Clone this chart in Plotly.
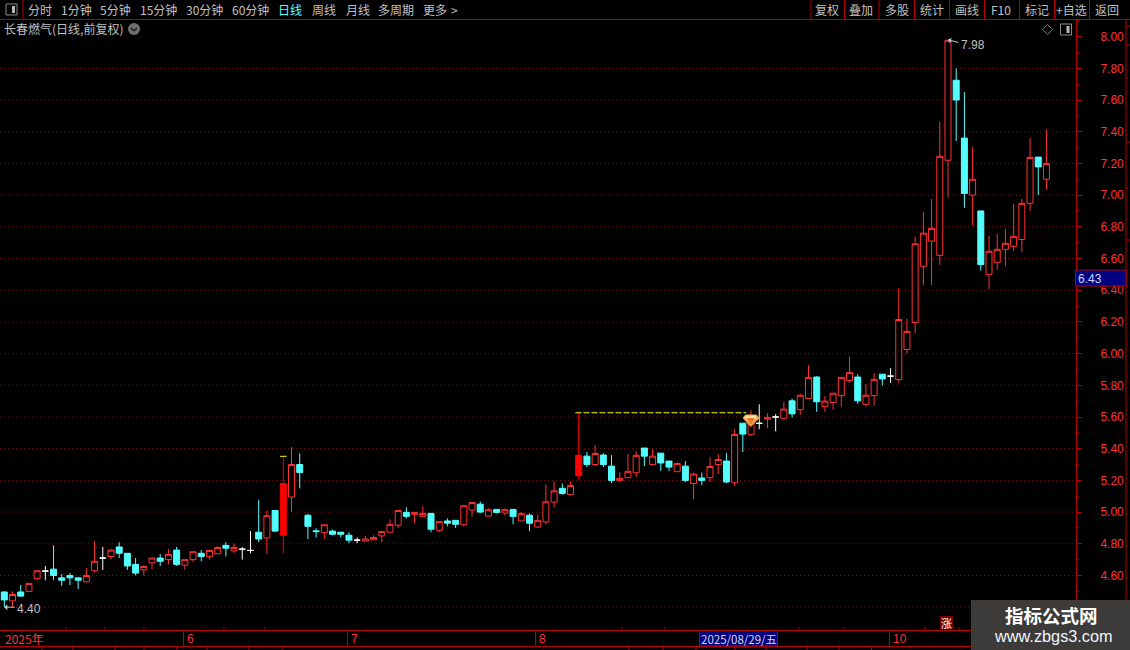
import plotly.graph_objects as go

W, H = 1130, 650
PANE_L, PANE_R, PANE_T, PANE_B = 0, 1076, 20, 630

OPEN = [4.496,4.44,4.496,4.50,4.58,4.628,4.64,4.585,4.60,4.585,
        4.56,4.63,4.71,4.72,4.78,4.74,4.67,4.636,4.68,4.71,
        4.70,4.76,4.665,4.70,4.74,4.72,4.737,4.79,4.755,4.766,
        4.758,4.873,4.837,5.01,4.854,5.095,5.30,4.98,4.882,4.87,
        4.88,4.873,4.854,4.823,4.817,4.825,4.85,4.873,4.917,4.998,
        4.986,4.973,4.992,4.885,4.944,4.948,4.92,5.013,5.05,4.975,
        5.017,4.994,5.017,4.944,4.98,4.906,4.938,5.063,5.15,5.11,
        5.23,5.353,5.30,5.36,5.29,5.198,5.217,5.248,5.404,5.30,
        5.372,5.322,5.255,5.29,5.18,5.215,5.217,5.30,5.322,5.185,
        5.561,5.488,5.56,5.586,5.60,5.592,5.702,5.646,5.717,5.852,
        5.667,5.692,5.735,5.83,5.852,5.68,5.735,5.87,5.858,5.836,
        6.026,6.196,6.551,6.71,6.62,7.22,7.725,7.36,7.0,6.90,
        6.50,6.576,6.658,6.677,6.72,6.948,7.24,7.10]
HIGH = [4.50,4.50,4.54,4.55,4.63,4.66,4.79,4.61,4.615,4.585,
        4.647,4.816,4.78,4.766,4.81,4.74,4.71,4.666,4.71,4.735,
        4.766,4.78,4.70,4.75,4.76,4.764,4.785,4.81,4.80,4.78,
        4.88,5.078,5.01,5.01,5.343,5.41,5.37,4.99,4.898,4.92,
        4.89,4.873,4.873,4.84,4.85,4.854,4.877,4.954,5.01,5.03,
        4.998,5.036,4.992,4.94,4.96,4.948,5.04,5.06,5.067,5.023,
        5.017,5.023,5.017,5.0,4.992,4.986,5.174,5.193,5.18,5.194,
        5.626,5.379,5.423,5.372,5.36,5.25,5.366,5.385,5.404,5.397,
        5.372,5.322,5.313,5.322,5.25,5.25,5.347,5.366,5.372,5.523,
        5.561,5.643,5.68,5.624,5.618,5.696,5.715,5.746,5.927,5.858,
        5.733,5.75,5.85,5.983,5.87,5.808,5.877,5.87,5.908,6.412,
        6.22,6.74,6.894,6.976,7.462,7.98,7.80,7.65,7.305,6.90,
        6.742,6.755,6.787,6.944,6.976,7.36,7.24,7.412]
LOW = [4.40,4.40,4.467,4.50,4.57,4.57,4.57,4.535,4.54,4.515,
       4.56,4.62,4.635,4.70,4.71,4.635,4.60,4.60,4.64,4.66,
       4.67,4.66,4.635,4.685,4.69,4.70,4.737,4.72,4.74,4.70,
       4.74,4.81,4.735,4.873,4.74,5.0,5.15,4.83,4.84,4.83,
       4.854,4.84,4.804,4.804,4.817,4.825,4.81,4.873,4.90,4.96,
       4.93,4.973,4.873,4.873,4.91,4.90,4.91,4.973,4.992,4.975,
       4.992,4.98,4.923,4.944,4.88,4.90,4.923,5.03,5.11,5.11,
       5.206,5.284,5.29,5.284,5.183,5.19,5.217,5.22,5.29,5.30,
       5.26,5.26,5.255,5.19,5.082,5.17,5.19,5.24,5.183,5.164,
       5.379,5.48,5.523,5.53,5.51,5.583,5.596,5.615,5.717,5.633,
       5.633,5.646,5.665,5.815,5.683,5.665,5.67,5.80,5.815,5.817,
       6.0,6.13,6.434,6.434,6.56,6.985,7.342,6.92,6.81,6.524,
       6.408,6.528,6.553,6.648,6.642,6.90,7.0,7.034]
CLOSE = [4.446,4.48,4.47,4.55,4.63,4.628,4.60,4.57,4.585,4.57,
         4.60,4.69,4.71,4.76,4.74,4.66,4.615,4.657,4.71,4.69,
         4.733,4.67,4.70,4.75,4.72,4.758,4.777,4.772,4.777,4.766,
         4.758,4.83,4.977,4.88,5.18,5.30,5.25,4.91,4.877,4.92,
         4.86,4.86,4.823,4.823,4.83,4.84,4.877,4.923,5.01,4.973,
         4.998,4.992,4.892,4.94,4.93,4.923,5.04,5.06,5.0,5.015,
         4.998,5.015,4.973,4.99,4.93,4.946,5.065,5.134,5.118,5.168,
         5.358,5.30,5.37,5.30,5.20,5.213,5.257,5.358,5.353,5.353,
         5.31,5.284,5.307,5.20,5.24,5.20,5.288,5.332,5.19,5.49,
         5.492,5.58,5.56,5.597,5.60,5.65,5.62,5.7375,5.85,5.696,
         5.70,5.75,5.85,5.88,5.702,5.7375,5.8375,5.84,5.858,6.215,
         6.14,6.693,6.76,6.79,7.245,7.977,7.60,7.01,7.10,6.562,
         6.646,6.658,6.696,6.74,6.948,7.238,7.178,7.20]
SOLID_DAYS = [34, 70]

GRID_LEVELS = [4.4,4.6,4.8,5.0,5.2,5.4,5.6,5.8,6.0,6.2,6.4,6.6,6.8,7.0,7.2,7.4,7.6,7.8]
LAST_PRICE = 6.43
LOW_POINT = (0, 4.40, "4.40")
HIGH_POINT = (115, 7.98, "7.98")
BREAKOUT_LINE = ([69.6, 90.4], [5.627, 5.627])
LIMIT_MARK = ([33.6, 34.4], [5.352, 5.352])

LEFT_MENU = [("分时",39.5),("1分钟",76.5),("5分钟",115),("15分钟",158),("30分钟",204.5),("60分钟",250),
             ("日线",289.5),("周线",323.5),("月线",357.5),("多周期",396),("更多",434.5),(">",454)]
RIGHT_MENU = [("复权",827),("叠加",861),("多股",897),("统计",932),("画线",967),("F10",1001),("标记",1037),("+自选",1071),("返回",1107)]
MENU_SEPS = [23,811,844.5,879,914.5,949.5,984.5,1019.5,1054.5,1089.5]
MONTHS = [("2025年",3),("6",185),("7",349),("8",537),("10",891)]
MONTH_SEPS = [183.5,347.5,535.5,889.5]
TOP_TICKS = [66,105,144,224,265,622,665,799,844,924.5,959]
LOW_TICKS = [42,73,115,144,177,207,249,282,629,663,696,735,766,807,839,871.5]
EDGE_TICKS = [(26,5),(45,5),(78,2),(135,2),(142,5),(188,2),(240,5),(272,2),(287,2)]

RED_LINE = "#b40000"
GRID = "#7a1010"
TXT = "#c0c0c0"
RED = "#ff3232"
CYAN = "#54ffff"
CJK = "Noto Sans CJK SC"
SANS = "Liberation Sans"

def px(x): return x / W
def py(y): return 1 - y / H

STYLE = ["w" if o == c else ("s" if i in SOLID_DAYS else ("r" if c > o else "c"))
         for i, (o, c) in enumerate(zip(OPEN, CLOSE))]

fig = go.Figure()
X = list(range(len(OPEN)))
def candles(code, line, fill):
    idx = [i for i in X if STYLE[i] == code]
    side = dict(line=dict(color=line, width=1), fillcolor=fill)
    fig.add_trace(go.Candlestick(x=idx, open=[OPEN[i] for i in idx], high=[HIGH[i] for i in idx],
                                 low=[LOW[i] for i in idx], close=[CLOSE[i] for i in idx],
                                 increasing=side, decreasing=side, whiskerwidth=0,
                                 hoverinfo="skip", showlegend=False))
candles("c", CYAN, CYAN)
candles("r", RED, "#000000")
candles("s", "#ff0000", "#ff0000")
candles("w", "#ffffff", "#ffffff")
fig.add_trace(go.Scatter(x=BREAKOUT_LINE[0], y=BREAKOUT_LINE[1], mode="lines",
                         line=dict(color="#ffff00", width=1, dash="6px,2px"), showlegend=False, hoverinfo="skip"))
fig.add_trace(go.Scatter(x=LIMIT_MARK[0], y=LIMIT_MARK[1], mode="lines",
                         line=dict(color="#ffff00", width=1), showlegend=False, hoverinfo="skip"))

shapes, ann = [], []
def line(x0, y0, x1, y1, color=RED_LINE, width=1):
    shapes.append(dict(type="line", xref="paper", yref="paper", x0=px(x0), x1=px(x1), y0=py(y0), y1=py(y1),
                       line=dict(color=color, width=width), layer="above"))
def rect(x0, y0, x1, y1, fill=None, color=None, width=1):
    shapes.append(dict(type="rect", xref="paper", yref="paper", x0=px(x0), x1=px(x1), y0=py(y0), y1=py(y1),
                       fillcolor=fill or "rgba(0,0,0,0)",
                       line=dict(color=color or "rgba(0,0,0,0)", width=width if color else 0), layer="above"))
def poly(points, fill, color=None):
    d = "M" + " L".join(f"{px(x)},{py(y)}" for x, y in points) + " Z"
    shapes.append(dict(type="path", xref="paper", yref="paper", path=d, fillcolor=fill,
                       line=dict(color=color or fill, width=1), layer="above"))
def text(s, x, y, color=TXT, size=12, anchor="center", font=CJK, bold=False):
    ann.append(dict(text=f"<b>{s}</b>" if bold else s, xref="paper", yref="paper", x=px(x), y=py(y),
                    xanchor=anchor, yanchor="middle", showarrow=False,
                    font=dict(family=font, size=size, color=color)))

for lv in GRID_LEVELS:
    shapes.append(dict(type="line", xref="paper", yref="y", x0=px(PANE_L), x1=px(PANE_R), y0=lv, y1=lv,
                       line=dict(color=GRID, width=1, dash="1px,3px"), layer="below"))

# frame
line(0, 19.5, W, 19.5)
line(1126, 20, 1126, 630)
for s in MENU_SEPS: line(s, 0, s, 19.5)
for y, n in EDGE_TICKS: line(1126, y, 1126 + n, y)
line(0, 630.5, W, 630.5)
line(0, 646.5, W, 646.5)
for s in MONTH_SEPS: line(s, 631, s, 646)
for t in TOP_TICKS: line(t, 627, t, 630)
for t in LOW_TICKS: line(t, 646, t, 650)

# menus
for s, x in LEFT_MENU:
    text(s, x, 9.5, color=CYAN if s == "日线" else TXT)
for s, x in RIGHT_MENU:
    text(s, x, 9.5)
text("长春燃气(日线,前复权)", 2, 29, anchor="left")

# small icons
def split_icon(x0, y0):
    shapes.append(dict(type="rect", xref="paper", yref="paper", x0=px(x0), x1=px(x0 + 11), y0=py(y0), y1=py(y0 + 11),
                       fillcolor="#000000", line=dict(color="#8c8c8c", width=1), layer="above"))
    rect(x0 + 6, y0 + 2, x0 + 9, y0 + 9, fill="#b8b8b8")
split_icon(6, 4)
split_icon(1060.5, 24)
shapes.append(dict(type="circle", xref="paper", yref="paper", x0=px(128), x1=px(140), y0=py(23), y1=py(35),
                   fillcolor="#6e6e6e", line=dict(color="#6e6e6e", width=0), layer="above"))
line(131, 28, 134, 31, "#1c1c1c", 1.5)
line(134, 31, 137, 28, "#1c1c1c", 1.5)
poly([(1047.5, 24.5), (1052.5, 29.5), (1047.5, 34.5), (1042.5, 29.5)], "rgba(0,0,0,0)", "#7d7d7d")

# gem marker over the breakout candle
poly([(745.5, 415), (756.5, 415), (759, 418), (750.8, 426.5), (743, 418)], "#f4a24c")
poly([(746, 416), (755.5, 416), (757, 418), (744.5, 418)], "#ffd9a6")
poly([(748, 418.5), (753.5, 418.5), (750.8, 424)], "#e8772a")

# bottom date box and labels
for s, x in MONTHS:
    text(s, x, 638.5, color=RED, anchor="left", size=12, font=SANS if s != "2025年" else CJK)
rect(699.5, 630.5, 777.5, 646, fill="#000080", color=RED_LINE)
text("2025/08/29/五", 738.5, 638.5, color="#d8d8e8", size=11.5)

# last price tag
rect(1075.5, 270, 1126, 286, fill="#000080", color=RED_LINE)
text(f"{LAST_PRICE:.2f}", 1075.5, 278.5, color="#d0d4ff", size=12, anchor="left", font=SANS)

# badge and watermark
rect(940, 616, 953, 629, fill="#780000")
text("涨", 946.5, 622.5, color="#ffffff", size=11)
rect(971, 600, W, H, fill="#3d3a3a")
text("指标公式网", 1051, 615, color="#ffffff", size=18.5, bold=True)
text("www.zbgs3.com", 1053, 636, color="#f0f6ff", size=16.3, font=SANS)

# extreme labels
for (i, v, s), ax, ay, nudge in [(LOW_POINT, 12, 0, -1), (HIGH_POINT, 12, 3, -1)]:
    ann.append(dict(x=i, y=v, xref="x", yref="y", text="", showarrow=True, axref="pixel", ayref="pixel",
                    ax=ax, ay=ay, arrowhead=1, arrowsize=1, arrowwidth=1, arrowcolor="#c8c8c8", standoff=0))
    ann.append(dict(x=i, y=v, xref="x", yref="y", text=s, showarrow=False, xanchor="left", yanchor="middle",
                    xshift=ax + nudge, yshift=-ay - 2, font=dict(family=SANS, size=12, color=TXT)))

fig.update_layout(
    width=W, height=H, autosize=False,
    margin=dict(l=0, r=0, t=0, b=0, pad=0),
    paper_bgcolor="#000000", plot_bgcolor="#000000",
    boxgap=0.27, boxgroupgap=0,
    hovermode=False, dragmode=False, showlegend=False,
    xaxis=dict(domain=[PANE_L / W, PANE_R / W], range=[-0.524, 130.6], visible=False,
               rangeslider=dict(visible=False), fixedrange=True),
    yaxis=dict(domain=[py(PANE_B), py(PANE_T)], range=[4.256, 8.105], side="right", anchor="x",
               showgrid=False, zeroline=False, fixedrange=True,
               showline=True, linecolor=RED_LINE, linewidth=1,
               tick0=0, dtick=0.2, tickformat=".2f", ticks="outside", ticklen=5, tickwidth=1, tickcolor=RED_LINE,
               ticklabelstandoff=16, tickfont=dict(family=SANS, size=12, color=RED),
               minor=dict(dtick=0.1, ticks="outside", ticklen=2, tickcolor=RED_LINE, tickwidth=1, showgrid=False)),
    shapes=shapes, annotations=ann,
)
fig.write_html("out.html", config=dict(displayModeBar=False, staticPlot=True),
               post_script="document.body.style.margin='0';document.body.style.background='#000';document.documentElement.style.overflow='hidden';")
